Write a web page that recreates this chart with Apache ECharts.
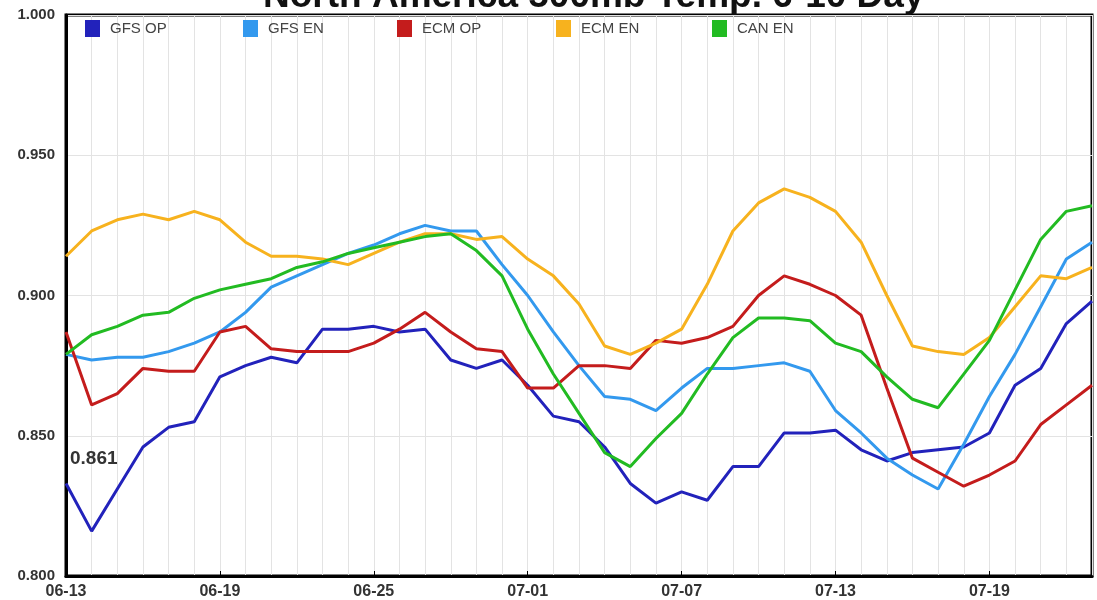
<!DOCTYPE html>
<html>
<head>
<meta charset="utf-8">
<script src="https://cdn.jsdelivr.net/npm/echarts@6/dist/echarts.min.js"></script>
<style>
html,body{margin:0;padding:0;background:#fff;}
#chart{width:1097px;height:600px;}
</style>
</head>
<body>
<div id="chart"></div>
<script>
const dates = ["06-13","06-14","06-15","06-16","06-17","06-18","06-19","06-20","06-21","06-22","06-23","06-24","06-25","06-26","06-27","06-28","06-29","06-30","07-01","07-02","07-03","07-04","07-05","07-06","07-07","07-08","07-09","07-10","07-11","07-12","07-13","07-14","07-15","07-16","07-17","07-18","07-19","07-20","07-21","07-22","07-23"];

const gfsOp = [0.833,0.816,0.831,0.846,0.853,0.855,0.871,0.875,0.878,0.876,0.888,0.888,0.889,0.887,0.888,0.877,0.874,0.877,0.868,0.857,0.855,0.846,0.833,0.826,0.830,0.827,0.839,0.839,0.851,0.851,0.852,0.845,0.841,0.844,0.845,0.846,0.851,0.868,0.874,0.890,0.898];
const gfsEn = [0.879,0.877,0.878,0.878,0.880,0.883,0.887,0.894,0.903,0.907,0.911,0.915,0.918,0.922,0.925,0.923,0.923,0.911,0.900,0.887,0.875,0.864,0.863,0.859,0.867,0.874,0.874,0.875,0.876,0.873,0.859,0.851,0.842,0.836,0.831,0.847,0.864,0.879,0.896,0.913,0.919];
const ecmOp = [0.887,0.861,0.865,0.874,0.873,0.873,0.887,0.889,0.881,0.880,0.880,0.880,0.883,0.888,0.894,0.887,0.881,0.880,0.867,0.867,0.875,0.875,0.874,0.884,0.883,0.885,0.889,0.900,0.907,0.904,0.900,0.893,0.867,0.842,0.837,0.832,0.836,0.841,0.854,0.861,0.868];
const ecmEn = [0.914,0.923,0.927,0.929,0.927,0.930,0.927,0.919,0.914,0.914,0.913,0.911,0.915,0.919,0.922,0.922,0.920,0.921,0.913,0.907,0.897,0.882,0.879,0.883,0.888,0.904,0.923,0.933,0.938,0.935,0.930,0.919,0.900,0.882,0.880,0.879,0.885,0.896,0.907,0.906,0.910];
const canEn = [0.879,0.886,0.889,0.893,0.894,0.899,0.902,0.904,0.906,0.910,0.912,0.915,0.917,0.919,0.921,0.922,0.916,0.907,0.888,0.872,0.858,0.844,0.839,0.849,0.858,0.872,0.885,0.892,0.892,0.891,0.883,0.880,0.871,0.863,0.860,0.872,0.884,0.902,0.920,0.930,0.932];

const seriesNames = ["GFS OP","GFS EN","ECM OP","ECM EN","CAN EN"];
const seriesColors = ["#2222bb","#3399ee","#c41c1c","#f7b21e","#22bb22"];
const titleText = "North America 500mb Temp. 6-10 Day";
const noteText = "0.861";

const values = [gfsOp, gfsEn, ecmOp, ecmEn, canEn];
const legendLefts = [80, 238, 392, 551, 707];

const chart = echarts.init(document.getElementById('chart'), null, {renderer:'canvas'});
const option = {
  backgroundColor: '#fff',
  animation: false,
  title: {
    text: titleText,
    left: 258,
    top: -27,
    textStyle: {fontFamily: 'Liberation Sans, Arial', fontSize: 37, fontWeight: 'bold', color: '#111'}
  },
  legend: seriesNames.map((n, i) => ({
    data: [n],
    left: legendLefts[i],
    top: 15,
    itemWidth: 15,
    itemHeight: 17,
    icon: 'rect',
    textStyle: {fontFamily: 'Liberation Sans, Arial', fontSize: 15, color: '#444', padding: [0, 0, 0, 5]}
  })),
  grid: {left: 66, right: 5, top: 15, bottom: 24, show: true, borderColor: '#000', borderWidth: 3, containLabel: false},
  xAxis: {
    type: 'category',
    data: dates,
    boundaryGap: false,
    axisLine: {lineStyle: {color: '#000', width: 3}},
    axisTick: {show: true, inside: true, length: 5, interval: 5, lineStyle: {color: '#000'}},
    axisLabel: {interval: 5, fontFamily: 'Liberation Sans, Arial', fontSize: 16, fontWeight: 'bold', color: '#333', margin: 8},
    splitLine: {show: true, interval: 0, lineStyle: {color: '#e3e3e3', width: 1}}
  },
  yAxis: {
    type: 'value',
    min: 0.8,
    max: 1.0,
    interval: 0.05,
    axisLine: {show: true, lineStyle: {color: '#000', width: 3}},
    axisTick: {show: false},
    axisLabel: {formatter: v => v.toFixed(3), fontFamily: 'Liberation Sans, Arial', fontSize: 15, fontWeight: 'bold', color: '#333', margin: 11},
    splitLine: {show: true, lineStyle: {color: '#e3e3e3', width: 1}}
  },
  graphic: [{
    type: 'text', left: 70, top: 449, z: 100,
    style: {text: noteText, font: 'bold 19px "Liberation Sans", Arial', fill: '#333'}
  }],
  series: seriesNames.map((n, i) => ({
    name: n,
    type: 'line',
    data: values[i],
    color: seriesColors[i],
    showSymbol: false,
    symbol: 'none',
    lineStyle: {width: 3, color: seriesColors[i]}
  }))
};
chart.setOption(option);
</script>
</body>
</html>
